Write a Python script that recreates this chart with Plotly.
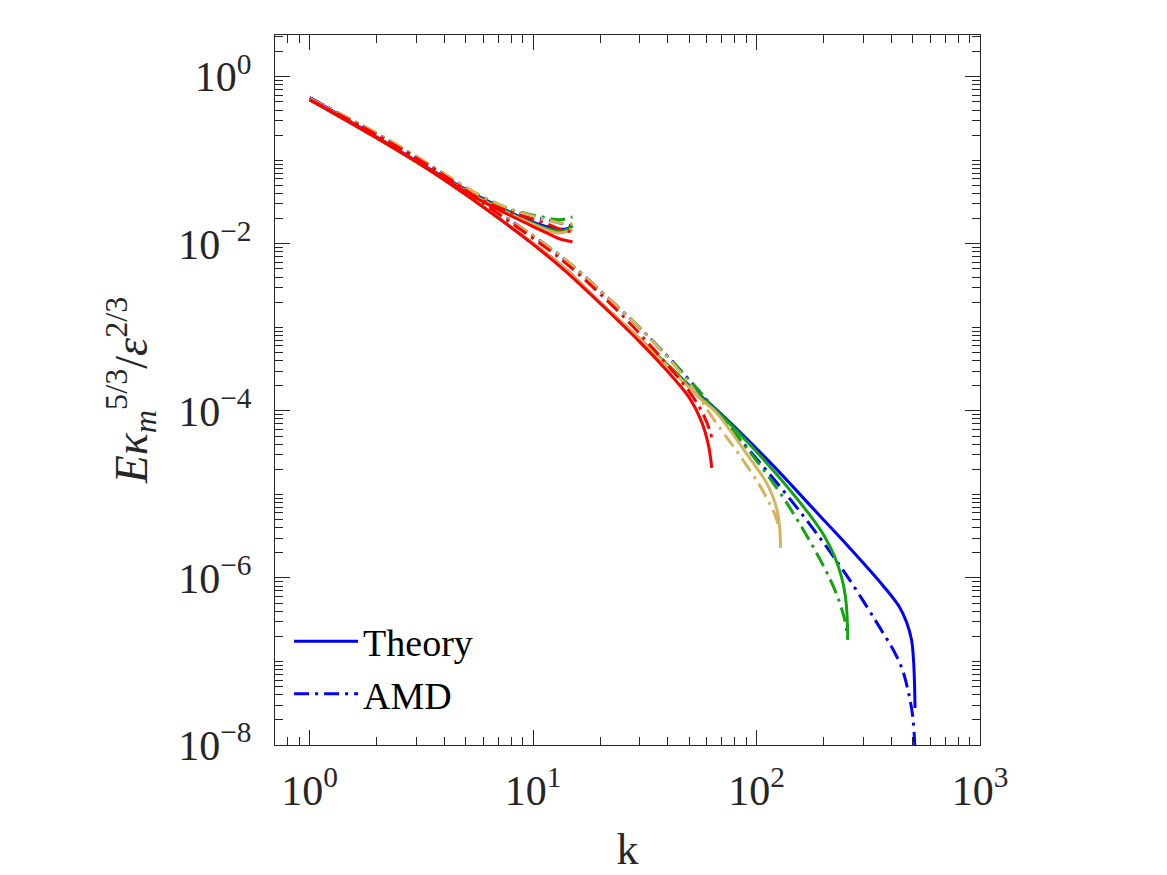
import plotly.graph_objects as go

# ---------------- data ----------------
# long curves (cut-off ~ N/2)
k_blue_th = [1, 1.95, 3.82, 7.08, 13.6, 19.8, 30.0, 40.8, 55.6, 66.3, 111, 185, 261, 366, 436, 469,
             494, 505, 512]
E_blue_th = [0.560, 0.1965, 0.0634, 0.0199, 0.0053, 0.00202, 7.28e-4, 3.36e-4, 1.55e-4, 1.03e-4,
             2.66e-5, 6.17e-6, 2.29e-6, 8.24e-7, 4.50e-7, 2.97e-7, 1.81e-7, 9.59e-8, 2.77e-8]
k_blue_amd = [1, 1.95, 3.82, 7.08, 13.6, 19.8, 30.0, 48.6, 79.7, 131, 185, 261, 366, 414, 450, 479,
              499, 510, 512]
E_blue_amd = [0.560, 0.2135, 0.0728, 0.0235, 0.0068, 0.00281, 9.87e-4, 2.55e-4, 5.45e-5, 1.13e-5,
              3.46e-6, 9.46e-7, 2.26e-7, 1.30e-7, 7.91e-8, 4.20e-8, 2.29e-8, 1.06e-8, 5.76e-9]

k_green_th = [1, 1.95, 3.82, 7.08, 13.6, 19.8, 30.0, 40.8, 55.6, 66.3, 111, 173, 201, 223, 240, 250,
              254, 256]
E_green_th = [0.531, 0.1965, 0.0634, 0.0199, 0.0053, 0.00202, 7.28e-4, 3.36e-4, 1.51e-4, 1.0e-4,
              2.38e-5, 5.68e-6, 3.18e-6, 1.83e-6, 1.03e-6, 5.92e-7, 3.60e-7, 1.91e-7]
k_green_amd = [1, 1.95, 3.82, 7.08, 13.6, 19.8, 30.0, 48.6, 79.7, 123, 167, 212, 235, 248, 254, 256]
E_green_amd = [0.531, 0.2135, 0.0728, 0.0235, 0.0068, 0.00281, 9.87e-4, 2.55e-4, 5.45e-5, 1.20e-5,
               3.27e-6, 1.0e-6, 5.16e-7, 3.14e-7, 2.19e-7, 1.81e-7]

k_gold_th = [1, 1.95, 3.82, 7.08, 13.6, 19.8, 30.0, 40.8, 55.6, 66.3, 93.0, 109, 118, 124, 127, 128]
E_gold_th = [0.546, 0.1965, 0.0634, 0.0199, 0.0053, 0.00202, 7.28e-4, 3.27e-4, 1.43e-4, 9.46e-5,
             2.74e-5, 1.49e-5, 9.59e-6, 6.17e-6, 3.97e-6, 2.29e-6]
k_gold_amd = [1, 1.95, 3.82, 7.08, 13.6, 19.8, 30.0, 48.6, 66.9, 83.9, 103, 114, 122, 126]
E_gold_amd = [0.546, 0.219, 0.0749, 0.0235, 0.0068, 0.00281, 9.87e-4, 2.35e-4, 6.8e-5, 2.97e-5,
              1.30e-5, 7.91e-6, 5.38e-6, 3.97e-6]

k_red_th = [1, 1.95, 3.82, 7.08, 13.1, 19.8, 30.0, 42.1, 50.1, 56.8, 61.0, 63]
E_red_th = [0.531, 0.1965, 0.0634, 0.0199, 0.00545, 0.00197, 6.71e-4, 2.55e-4, 1.43e-4, 7.38e-5,
            3.81e-5, 2.08e-5]
k_red_amd = [1, 1.95, 3.82, 7.08, 13.6, 24.4, 36.8, 50.1, 57.3, 61.7, 63]
E_red_amd = [0.531, 0.208, 0.0708, 0.0223, 0.00626, 0.00149, 4.56e-4, 1.69e-4, 9.46e-5, 5.92e-5, 4.75e-5]

# short curves (cut-off k ~ 15)
k_short_th = [1, 1.95, 3.82, 5.76, 9.64, 12.7, 14.1, 15]
E_blue_th_s = [0.560, 0.1965, 0.067, 0.0366, 0.0188, 0.0151, 0.0151, 0.0164]
E_green_th_s = [0.531, 0.191, 0.0652, 0.0356, 0.0183, 0.0143, 0.0147, 0.0164]
E_gold_th_s = [0.546, 0.191, 0.0652, 0.0346, 0.0178, 0.0135, 0.0139, 0.0151]
k_red_th_s = [1, 1.95, 3.82, 5.76, 9.64, 11.5, 13.1, 15]
E_red_th_s = [0.531, 0.191, 0.0652, 0.0336, 0.0169, 0.0135, 0.0115, 0.0106]

k_short_amd = [1, 1.95, 3.82, 5.76, 8.09, 11.5, 13.1, 15]
E_blue_amd_s = [0.560, 0.2135, 0.0728, 0.0376, 0.0248, 0.0194, 0.0178, 0.0164]
E_green_amd_s = [0.531, 0.2135, 0.0728, 0.0376, 0.0255, 0.0205, 0.0194, 0.0210]
E_gold_amd_s = [0.546, 0.219, 0.0749, 0.0386, 0.0255, 0.0194, 0.0178, 0.0174]
E_red_amd_s = [0.531, 0.208, 0.0708, 0.0346, 0.0235, 0.0174, 0.0151, 0.0139]

x_tickvals = [1, 10, 100, 1000]
x_ticktext = ["10<sup>0</sup>", "10<sup>1</sup>", "10<sup>2</sup>", "10<sup>3</sup>"]
y_tickvals = [1, 1e-2, 1e-4, 1e-6, 1e-8]
y_ticktext = ["10<sup>0</sup>", "10<sup>\u22122</sup>", "10<sup>\u22124</sup>",
              "10<sup>\u22126</sup>", "10<sup>\u22128</sup>"]

# ---------------- styling ----------------
BLUE = "#0000FF"
GREEN = "#12A512"
GOLD = "#D6B25E"
RED = "#FF0000"
DASHDOT = "15px,6px,3px,6px"
LW = 3
FONT = "Liberation Serif"
AX = "#262626"

fig = go.Figure()


def add(k, E, color, dash, name=None, legend=False):
    fig.add_trace(go.Scatter(
        x=k, y=E, mode="lines", name=name, showlegend=legend,
        line=dict(color=color, width=LW, dash=dash, shape="spline", smoothing=1.0),
        hoverinfo="skip"))


add(k_blue_th, E_blue_th, BLUE, "solid", "Theory", True)
add(k_blue_amd, E_blue_amd, BLUE, DASHDOT, "AMD", True)
add(k_short_th, E_blue_th_s, BLUE, "solid")
add(k_short_amd, E_blue_amd_s, BLUE, DASHDOT)
add(k_green_th, E_green_th, GREEN, "solid")
add(k_green_amd, E_green_amd, GREEN, DASHDOT)
add(k_short_th, E_green_th_s, GREEN, "solid")
add(k_short_amd, E_green_amd_s, GREEN, DASHDOT)
add(k_gold_th, E_gold_th, GOLD, "solid")
add(k_gold_amd, E_gold_amd, GOLD, DASHDOT)
add(k_short_th, E_gold_th_s, GOLD, "solid")
add(k_short_amd, E_gold_amd_s, GOLD, DASHDOT)
add(k_red_th, E_red_th, RED, "solid")
add(k_red_amd, E_red_amd, RED, DASHDOT)
add(k_red_th_s, E_red_th_s, RED, "solid")
add(k_short_amd, E_red_amd_s, RED, DASHDOT)

x_minor = [m * 10 ** d for d in range(-1, 3) for m in range(2, 10)]
y_minor = [m * 10.0 ** d for d in range(-9, 1) for m in range(1, 10)]

fig.update_layout(
    width=1167, height=875,
    margin=dict(l=275, r=187, t=35, b=130),
    paper_bgcolor="white", plot_bgcolor="white",
    font=dict(family=FONT, size=42, color=AX),
    showlegend=True,
    legend=dict(x=0.02, y=0.19, xanchor="left", yanchor="top",
                bgcolor="rgba(0,0,0,0)", borderwidth=0, itemwidth=64,
                font=dict(family=FONT, size=38, color="black"),
                tracegroupgap=0),
)

fig.update_xaxes(
    type="log", range=[-0.155, 3.0],
    tickmode="array", tickvals=x_tickvals, ticktext=x_ticktext,
    ticks="inside", ticklen=15, tickwidth=1.2, tickcolor=AX,
    minor=dict(tickmode="array", tickvals=x_minor, ticks="inside", ticklen=8,
               tickwidth=1.1, tickcolor=AX, showgrid=False),
    showline=True, linecolor=AX, linewidth=1.3, mirror="allticks",
    showgrid=False, zeroline=False,
    tickfont=dict(family=FONT, size=42, color=AX),
    ticklabelstandoff=8,
    title=dict(text="k", font=dict(family=FONT, size=44, color=AX), standoff=20),
)
fig.update_yaxes(
    type="log", range=[-8.0, 0.5],
    tickmode="array", tickvals=y_tickvals, ticktext=y_ticktext,
    ticks="inside", ticklen=15, tickwidth=1.2, tickcolor=AX,
    minor=dict(tickmode="array", tickvals=y_minor, ticks="inside", ticklen=8,
               tickwidth=1.1, tickcolor=AX, showgrid=False),
    showline=True, linecolor=AX, linewidth=1.3, mirror="allticks",
    showgrid=False, zeroline=False,
    tickfont=dict(family=FONT, size=42, color=AX),
    ticklabelstandoff=14,
    title=dict(text="<i>E\u03ba</i><sub><i>m</i></sub><sup>5/3</sup>/<i>\u03b5</i><sup>2/3</sup>",
               font=dict(family=FONT, size=46, color=AX), standoff=16),
)

fig.write_html("out.html")
